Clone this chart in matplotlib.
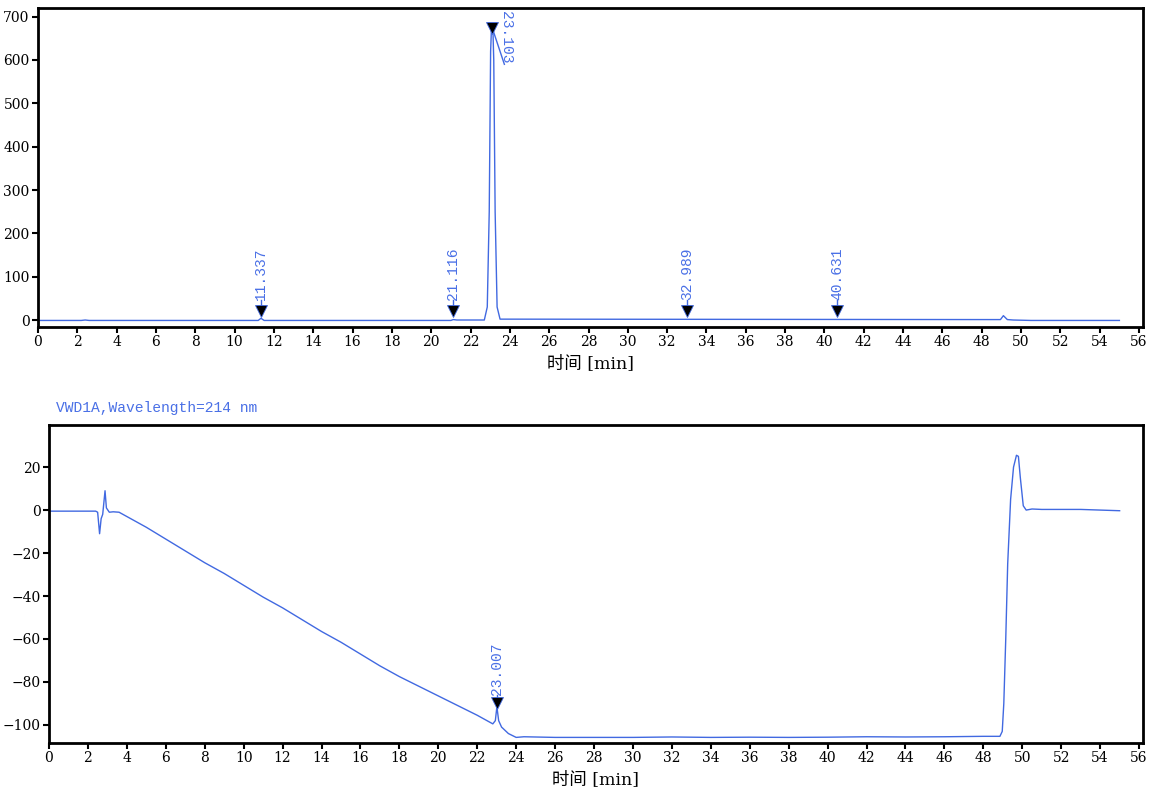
import matplotlib
matplotlib.use('Agg')
import matplotlib.pyplot as plt
from matplotlib.ticker import MultipleLocator

# top trace (retention time [min], signal)
top_t = [0, 2.2, 2.4, 2.6, 11.2, 11.34, 11.5, 21.0, 21.12, 21.3, 22.7, 22.85, 22.95,
         23.02, 23.07, 23.13, 23.18, 23.25, 23.35, 23.5, 48.3, 48.95, 49.1, 49.3, 49.6, 50.5, 55.0]
top_v = [-1, -1, 0, -1, -1, 4, -1, -1, 1, 0, 0, 30, 250,
         620, 681, 681, 600, 250, 30, 2, 1, 1, 10, 1, 0, -1, -1]
top_peaks = [11.337, 21.116, 32.989, 40.631]
top_main_peak = 23.103

# bottom trace, VWD1A 214 nm
bot_t = [0, 2.4, 2.5, 2.6, 2.68, 2.76, 2.88, 2.95, 3.1, 3.3, 3.6, 4.0, 5.0, 6.0, 7.0,
         8.0, 9.0, 10.0, 11.0, 12.0, 13.0, 14.0, 15.0, 16.0, 17.0, 18.0, 19.0, 20.0,
         21.0, 22.0, 22.8, 22.93, 23.01, 23.1, 23.25, 23.6, 24.0, 24.4, 26, 28, 30, 32,
         34, 36, 38, 40, 42, 44, 46, 48, 48.85, 48.97, 49.05, 49.15, 49.25, 49.4, 49.55,
         49.7, 49.8, 49.9, 50.05, 50.2, 50.5, 51, 53, 55]
bot_v = [-0.5, -0.5, -1, -11, -4, -2, 9, 1, -1, -0.8, -1, -3, -8, -13.5, -19,
         -24.5, -29.5, -35, -40.5, -45.5, -51, -56.5, -61.5, -67, -72.5, -77.5, -82, -86.5,
         -91, -95.5, -99.5, -98, -91.5, -98, -101, -104, -105.8, -105.5, -105.8, -105.8, -105.8, -105.6,
         -105.8, -105.7, -105.8, -105.7, -105.5, -105.6, -105.5, -105.3, -105.3, -103, -90, -60, -25, 5, 20,
         25.5, 25, 15, 2, 0, 0.5, 0.3, 0.3, -0.3]
bot_peak = 23.007
bot_title = 'VWD1A,Wavelength=214 nm'
xlabel = '时间 [min]'

BLUE = '#4169e1'
TEXT_BLUE = '#4a70e6'
NUM_FONT = ['DejaVu Serif', 'Noto Sans CJK SC']
MONO_FONT = ['Liberation Mono', 'DejaVu Sans Mono']


def style_axes(ax, ylims, ystep):
    ax.set_xlim(0, 56.2)
    ax.set_ylim(*ylims)
    ax.xaxis.set_major_locator(MultipleLocator(2))
    ax.yaxis.set_major_locator(MultipleLocator(ystep))
    for s in ax.spines.values():
        s.set_linewidth(2)
        s.set_color('black')
    ax.tick_params(direction='out', length=4, width=1.5, pad=2, labelsize=10,
                   colors='black')
    for lab in ax.get_xticklabels() + ax.get_yticklabels():
        lab.set_family(NUM_FONT)
    ax.set_xlabel(xlabel, family=NUM_FONT, fontsize=12.5, labelpad=4)


def mark_peak(ax, x, y_tri, y_txt):
    ax.plot([x, x], [y_tri, y_txt], color=BLUE, lw=1)
    ax.plot([x], [y_tri], marker='v', ms=8, mfc='black', mec=BLUE, mew=0.6)
    ax.text(x, y_txt, '%.3f' % x, rotation=90, ha='center', va='bottom',
            color=TEXT_BLUE, family=MONO_FONT, fontsize=10.5)


fig = plt.figure(figsize=(11.55, 7.99), dpi=100)

ax1 = fig.add_axes([0.0329, 0.5907, 0.9567, 0.3993])
ax1.plot(top_t, top_v, color=BLUE, lw=1)
for p in top_peaks:
    mark_peak(ax1, p, 20, 46)
# main peak label drawn downwards, offset to the right
ax1.plot([top_main_peak, 23.72], [674, 590], color=BLUE, lw=1)
ax1.plot([top_main_peak], [674], marker='v', ms=8, mfc='black', mec=BLUE, mew=0.6)
ax1.text(23.8, 712, '%.3f' % top_main_peak, rotation=270, ha='center', va='top',
         color=TEXT_BLUE, family=MONO_FONT, fontsize=10.5)
style_axes(ax1, (-16.2, 720), 100)

ax2 = fig.add_axes([0.0424, 0.0701, 0.9472, 0.3980])
ax2.plot(bot_t, bot_v, color=BLUE, lw=1)
mark_peak(ax2, bot_peak, -90, -86)
style_axes(ax2, (-108.4, 39.6), 20)
ax2.text(0.006, 1.03, bot_title, transform=ax2.transAxes, ha='left', va='bottom',
         color=TEXT_BLUE, family=MONO_FONT, fontsize=10.5)

fig.savefig('out.png', dpi=100)
